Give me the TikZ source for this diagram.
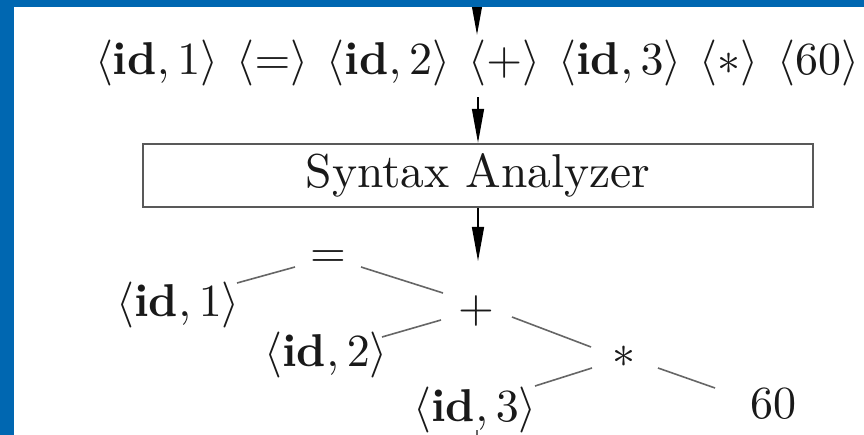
\documentclass[tikz,border=0pt]{standalone}
\usetikzlibrary{arrows.meta}
\definecolor{frameblue}{RGB}{0,103,177}
\newcommand{\sz}[1]{\scalebox{4.6}{#1}}
\begin{document}
\begin{tikzpicture}[x=1pt,y=-1pt,
  lbl/.style={inner sep=0pt, text=black!90},
  arr/.style={draw=black, line width=1.4pt, -{Triangle[length=34pt,width=12pt]}},
  branch/.style={draw=black!60, line width=1.6pt},
  phase/.style={draw=black!65, line width=2.4pt, minimum width=670pt, minimum height=63pt, inner sep=0pt, text=black!90}]
\fill[white] (0,0) rectangle (864,435);
\useasboundingbox (0,0) rectangle (864,435);

% token stream
\node[lbl] (tok) at (477,63) {\sz{$\langle\textbf{id},1\rangle$\hspace{4.0pt}$\langle=\rangle$\hspace{4.0pt}$\langle\textbf{id},2\rangle$\hspace{4.0pt}$\langle+\rangle$\hspace{4.0pt}$\langle\textbf{id},3\rangle$\hspace{4.0pt}$\langle*\rangle$\hspace{4.0pt}$\langle60\rangle$}};

% phase box
\node[phase] (sa) at (478,175.5) {\scalebox{4.75}{Syntax Analyzer}};

% syntax tree
\node[lbl] (eq)    at (328,259) {\sz{$=$}};
\node[lbl] (id1)   at (178,305) {\sz{$\langle\textbf{id},1\rangle$}};
\node[lbl] (plus)  at (476,311) {\sz{$+$}};
\node[lbl] (id2)   at (326,355) {\sz{$\langle\textbf{id},2\rangle$}};
\node[lbl] (ast)   at (624,357) {\sz{$*$}};
\node[lbl] (id3)   at (475,410) {\sz{$\langle\textbf{id},3\rangle$}};
\node[lbl] (sixty) at (773,404) {\sz{60}};

% arrows
\coordinate (entry) at (477,-30);
\coordinate (treein) at (478,261);
\coordinate (treeout) at (477,445);
\draw[arr, shorten >=5pt] (entry) -- (entry |- tok.north);
\draw[arr, shorten <=11pt] (tok.south -| sa.north) -- (sa.north);
\draw[arr] (sa.south) -- (treein);
\draw[draw=black!60, line width=1.4pt] ([shift={(2,-3)}]id3.south) -- (treeout);

% tree branches
\draw[branch] ([shift={(-33,8)}]eq.center) -- ([shift={(59,-22)}]id1.center);
\draw[branch] ([shift={(33,8)}]eq.center) -- ([shift={(-33,-18)}]plus.center);
\draw[branch] ([shift={(-35,9)}]plus.center) -- ([shift={(56,-18)}]id2.center);
\draw[branch] ([shift={(36,6)}]plus.center) -- ([shift={(-33,-10)}]ast.center);
\draw[branch] ([shift={(-32,11)}]ast.center) -- ([shift={(60,-24)}]id3.center);
\draw[branch] ([shift={(34,11)}]ast.center) -- ([shift={(-58,-16)}]sixty.center);

% frame
\fill[frameblue] (0,0) rectangle (864,7);
\fill[frameblue] (0,0) rectangle (14,435);
\end{tikzpicture}
\end{document}
